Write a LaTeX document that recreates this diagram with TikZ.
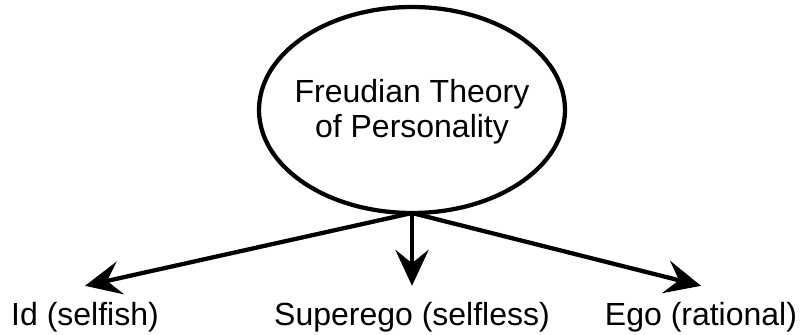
\documentclass[tikz,border=0pt]{standalone}
\usepackage{fontspec}
\setmainfont{Liberation Sans}
\usetikzlibrary{arrows.meta,shapes.geometric}

\begin{document}
\begin{tikzpicture}[x=0.75pt,y=-0.75pt,line width=3.2pt,
  >={Stealth[length=27pt,width=25pt,inset=10pt]},
  bigtext/.style={font=\fontsize{24}{26.25}\selectfont,inner sep=0pt,outer sep=0pt},
  theory/.style={ellipse,draw,minimum width=229.5pt,minimum height=154.5pt,inner sep=0pt,outer sep=0pt},
  part/.style={bigtext,anchor=base}]
  \useasboundingbox (0,0) rectangle (804,335);

  \node[theory] (F) at (412,110) {};
  \node[bigtext,align=center] (Ftext) at (412,112) {Freudian Theory\\of Personality};

  \node[part] (Id) at (85,325) {Id (selfish)};
  \node[part] (Sup) at (412,325) {Superego (selfless)};
  \node[part] (Ego) at (701,325) {Ego (rational)};

  \draw[->] (F.south) -- ([yshift=12pt]Id.north);
  \draw[->] (F.south) -- ([yshift=12pt]Sup.north);
  \draw[->] (F.south) -- ([yshift=12pt]Ego.north);
\end{tikzpicture}
\end{document}
